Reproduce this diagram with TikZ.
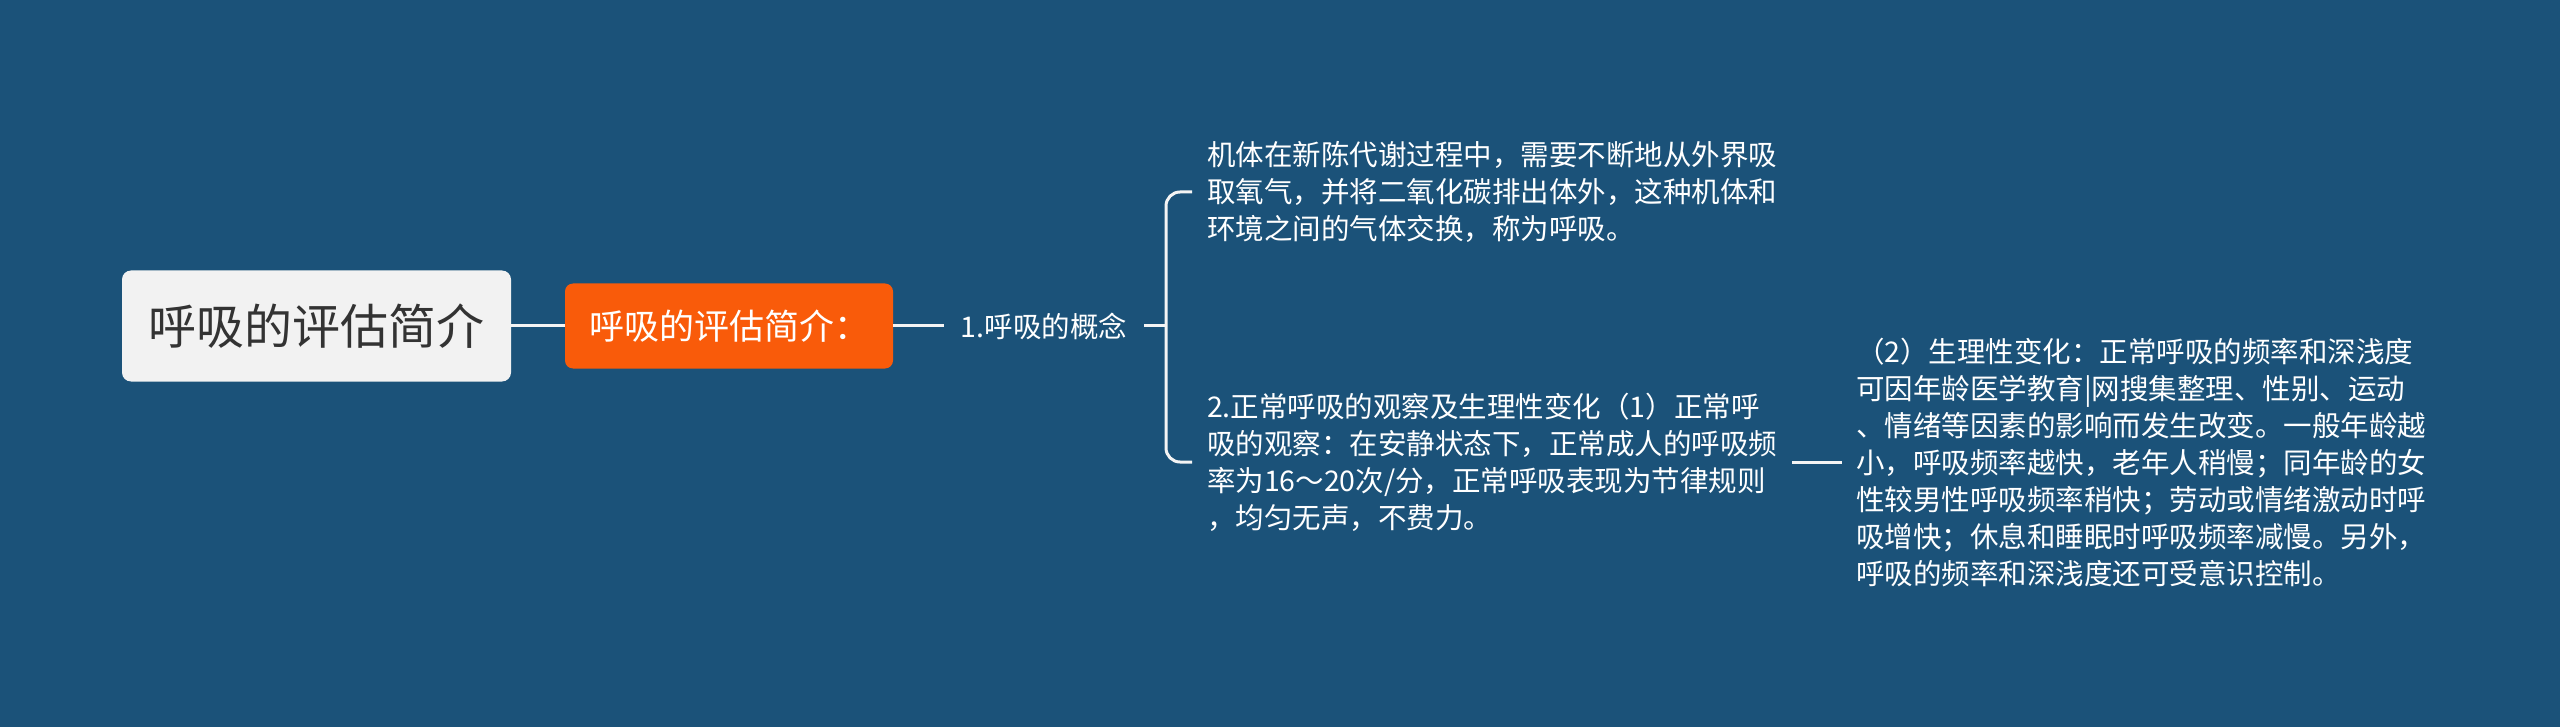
\documentclass[tikz,border=0pt]{standalone}
\usepackage{fontspec}
\setmainfont{Noto Sans CJK SC}
\usetikzlibrary{positioning}
\definecolor{mapbg}{HTML}{1B5279}
\definecolor{mainorange}{HTML}{F95B0A}
\definecolor{rootgray}{HTML}{F2F2F2}
\definecolor{roottext}{HTML}{333333}
\definecolor{branchline}{HTML}{F4F4F4}

\begin{document}
\begin{tikzpicture}[
  x=1pt, y=-1pt,
  every node/.style={inner sep=0pt, outer sep=0pt},
  rootbox/.style={
    fill=rootgray, text=roottext, rounded corners=9pt,
    font=\fontsize{48}{58}\selectfont,
    minimum width=389pt, minimum height=111pt
  },
  mainbox/.style={
    fill=mainorange, text=white, rounded corners=8pt,
    font=\fontsize{35}{42}\selectfont,
    minimum width=328pt, minimum height=85pt
  },
  topic/.style={text=white, font=\fontsize{28.5}{37}\selectfont, inner xsep=17pt},
  leaf/.style={text=white, font=\fontsize{28.5}{37}\selectfont, align=left, anchor=west, inner xsep=14pt},
  link/.style={draw=branchline, line width=3pt}
]
\fill[mapbg] (0,0) rectangle (2560,727);
\useasboundingbox (0,0) rectangle (2560,727);

\node[rootbox] (root) at (316.5,326) {呼吸的评估简介};
\node[mainbox] (main) at (729,326) {呼吸的评估简介：};
\node[topic, minimum height=40pt] (concept) at (1044,326) {1.呼吸的概念};
\coordinate (fork) at (1166,326);

% leaves
\node[leaf, inner xsep=15pt] (define) at (1192,192) {机体在新陈代谢过程中，需要不断地从外界吸\\取氧气，并将二氧化碳排出体外，这种机体和\\环境之间的气体交换，称为呼吸。};
\node[leaf, inner xsep=15pt] (observe) at (1192,462) {2.正常呼吸的观察及生理性变化（1）正常呼\\吸的观察：在安静状态下，正常成人的呼吸频\\率为16～20次/分，正常呼吸表现为节律规则\\，均匀无声，不费力。};
\node[leaf] (change) at (1842,462) {（2）生理性变化：正常呼吸的频率和深浅度\\可因年龄医学教育|网搜集整理、性别、运动\\、情绪等因素的影响而发生改变。一般年龄越\\小，呼吸频率越快，老年人稍慢；同年龄的女\\性较男性呼吸频率稍快；劳动或情绪激动时呼\\吸增快；休息和睡眠时呼吸频率减慢。另外，\\呼吸的频率和深浅度还可受意识控制。};

\draw[link] (root.east) -- (main.west);
\draw[link] (main.east) -- (concept.west);
\draw[link] (concept.east) -- (fork);
\draw[link, rounded corners=14pt] (define.west) -| (fork) |- (observe.west);
\draw[link] (observe.east) -- (change.west);
\end{tikzpicture}
\end{document}
